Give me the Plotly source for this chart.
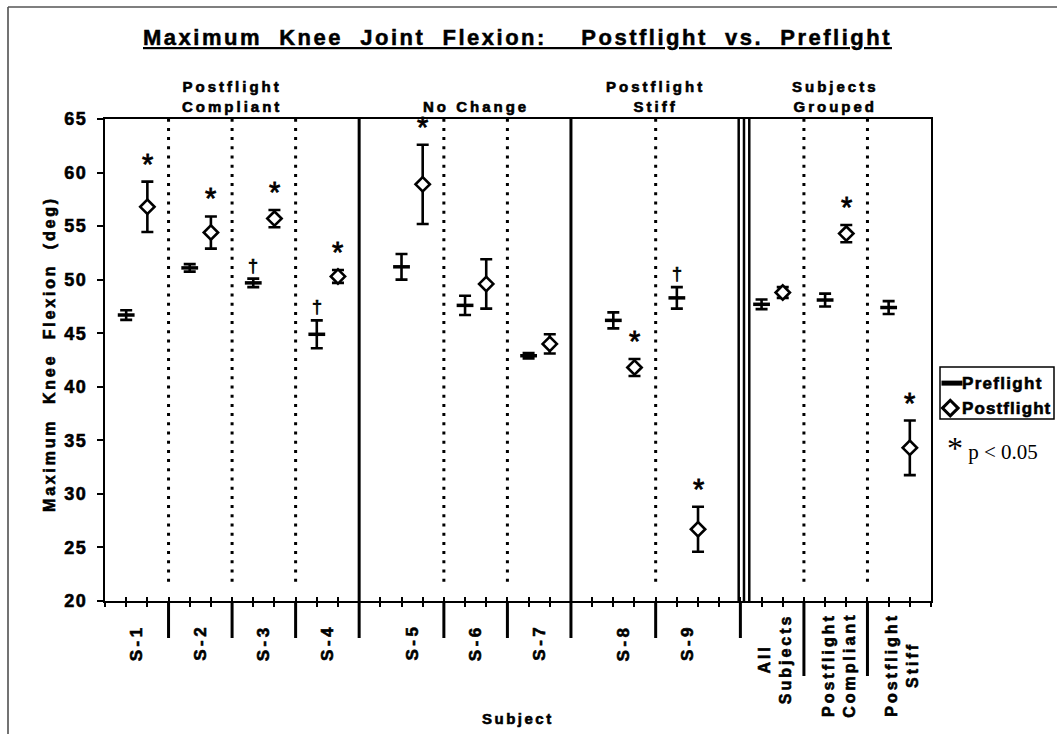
import plotly.graph_objects as go

# ---------------- data ----------------
subjects = ["S-1", "S-2", "S-3", "S-4", "S-5", "S-6", "S-7", "S-8", "S-9",
            "All<br>Subjects", "Postflight<br>Compliant", "Postflight<br>Stiff"]
group_names = ["Postflight<br>Compliant", "No Change", "Postflight<br>Stiff",
               "Subjects<br>Grouped"]
group_sizes = [4, 3, 2, 3]

pre_mean = [46.7, 51.1, 49.7, 44.9, 51.2, 47.6, 42.9, 46.2, 48.3, 47.7, 48.1, 47.4]
pre_err = [0.45, 0.35, 0.4, 1.3, 1.2, 0.9, 0.25, 0.75, 1.0, 0.45, 0.6, 0.6]
post_mean = [56.8, 54.4, 55.7, 50.3, 58.9, 49.6, 44.0, 41.8, 26.7, 48.8, 54.3, 34.3]
post_err = [2.35, 1.5, 0.8, 0.6, 3.7, 2.3, 0.9, 0.8, 2.1, 0.5, 0.8, 2.55]
post_sig = [1, 1, 1, 1, 1, 0, 0, 1, 1, 0, 1, 1]      # * p < 0.05
pre_dagger = [0, 0, 1, 1, 0, 0, 0, 0, 1, 0, 0, 0]    # †

y_ticks = [20, 25, 30, 35, 40, 45, 50, 55, 60, 65]

# slot layout: every subject uses three slots (pre, post, divider);
# some subjects get an extra empty slot before or after them
lead_gap = [0, 0, 0, 0, 1, 0, 0, 1, 0, 0, 0, 0]
trail_gap = [0, 0, 0, 0, 0, 0, 0, 0, 1, 0, 0, 0]

W, H = 1057, 734
def px(v):
    return v / W
def py(v):
    return 1 - v / H

PLOT_L, PLOT_R, PLOT_T, PLOT_B = 105, 931, 119, 601
LEG_L, LEG_R, LEG_T, LEG_B = 940, 1054, 367, 419
BOLD = "Liberation Sans"

def spaced(text, sp, stroke=0.6):
    style = f"letter-spacing:{sp}px"
    if stroke:
        style += f";stroke:black;stroke-width:{stroke}px"
    return f'<span style="{style}">{text}</span>'

pos_pre, pos_post, bounds = [], [], [0]
b = 0
for i in range(len(subjects)):
    pre = b + 1 + lead_gap[i]
    pos_pre.append(pre)
    pos_post.append(pre + 1)
    b = pre + 2 + trail_gap[i]
    bounds.append(b)
x_max = bounds[-1]

# group boundaries (indices into bounds)
group_ends = []
c = 0
for g in group_sizes:
    c += g
    group_ends.append(c)

fig = go.Figure()

# preflight: horizontal dash with error bars
fig.add_trace(go.Scatter(
    x=pos_pre, y=pre_mean, mode="markers", cliponaxis=False,
    marker=dict(symbol="line-ew", size=12, color="black",
                line=dict(width=3.5, color="black")),
    error_y=dict(type="data", array=pre_err, thickness=2.6, width=6, color="black"),
    hoverinfo="skip"))
# postflight: open diamond with error bars
fig.add_trace(go.Scatter(
    x=pos_post, y=post_mean, mode="markers", cliponaxis=False,
    marker=dict(symbol="diamond", size=11, color="white",
                line=dict(width=2.6, color="black")),
    error_y=dict(type="data", array=post_err, thickness=2.6, width=6, color="black"),
    hoverinfo="skip"))
# overlay axis carrying the inward half of the x ticks
fig.add_trace(go.Scatter(x=[None], y=[None], xaxis="x3", yaxis="y",
                         hoverinfo="skip", mode="markers"))

# legend symbols on a small helper axis spanning the legend box
fig.add_trace(go.Scatter(
    x=[0.105], y=[0.69], xaxis="x2", yaxis="y2", mode="markers",
    marker=dict(symbol="line-ew", size=15, line=dict(width=5, color="black")),
    hoverinfo="skip"))
fig.add_trace(go.Scatter(
    x=[0.09], y=[0.21], xaxis="x2", yaxis="y2", mode="markers",
    marker=dict(symbol="diamond", size=12, color="white",
                line=dict(width=3, color="black")),
    hoverinfo="skip"))

shapes = []
# vertical separators
for k in range(1, len(bounds) - 1):
    xb = bounds[k]
    in_last_group = k > group_ends[-2]
    if k in group_ends:
        if k == group_ends[2]:
            # triple line between single subjects and grouped results
            for off in (-0.08, 0.17, 0.42):
                shapes.append(dict(type="line", xref="x", yref="y", x0=xb + off, x1=xb + off,
                                   y0=20, y1=65, line=dict(color="black", width=2.5)))
        else:
            shapes.append(dict(type="line", xref="x", yref="y", x0=xb, x1=xb,
                               y0=20, y1=65, line=dict(color="black", width=3)))
    else:
        shapes.append(dict(type="line", xref="x", yref="y", x0=xb, x1=xb,
                           y0=21.8, y1=65,
                           line=dict(color="black", width=3, dash="3px,6.2px")))
    # part below the axis
    y_end = 676 if in_last_group else 638
    shapes.append(dict(type="line", xref="x", yref="paper", x0=xb, x1=xb,
                       y0=py(PLOT_B), y1=py(y_end), line=dict(color="black", width=3)))

# outer frame (left and top)
shapes.append(dict(type="line", xref="paper", yref="paper", x0=px(8), x1=px(8),
                   y0=py(7), y1=0, line=dict(color="#444", width=1.5)))
shapes.append(dict(type="line", xref="paper", yref="paper", x0=px(8), x1=1,
                   y0=py(7), y1=py(7), line=dict(color="#555", width=1.5)))
# legend box
shapes.append(dict(type="rect", xref="paper", yref="paper", x0=px(LEG_L), x1=px(LEG_R),
                   y0=py(LEG_T), y1=py(LEG_B), line=dict(color="black", width=1.5)))

ann = []
# title
title = "Maximum\u00a0\u00a0Knee\u00a0\u00a0Joint\u00a0\u00a0Flexion:\u00a0\u00a0\u00a0\u00a0Postflight\u00a0\u00a0vs.\u00a0\u00a0Preflight"
ann.append(dict(xref="paper", yref="paper", x=px(517), y=py(37), xanchor="center",
                yanchor="middle", showarrow=False,
                text="<u>" + spaced(title, 2.5, 0.5) + "</u>",
                font=dict(family=BOLD, size=22, weight="bold", color="black")))

# group headers
start = 0
for name, size in zip(group_names, group_sizes):
    members = list(range(start, start + size))
    xc = sum(pos_pre[i] + pos_post[i] for i in members) / (2 * size)
    ann.append(dict(xref="x", yref="paper", x=xc, y=py(117), xanchor="center",
                    yanchor="bottom", showarrow=False, align="center",
                    text=spaced(name, 3),
                    font=dict(family=BOLD, size=15, weight="bold", color="black")))
    start += size

# category labels below the axis
for i, lab in enumerate(subjects):
    xc = (pos_pre[i] + pos_post[i]) / 2
    two_line = "<br>" in lab
    ann.append(dict(xref="x", yref="paper", x=xc + (0.12 if two_line else 0),
                    y=py(611 if two_line else 622),
                    xanchor="center", yanchor="top", showarrow=False, align="center",
                    textangle=-90, text=spaced(lab, 3 if two_line else 3.5),
                    font=dict(family=BOLD, size=16 if two_line else 17,
                              weight="bold", color="black")))

# significance markers
for i in range(len(subjects)):
    if post_sig[i]:
        ann.append(dict(xref="x", yref="y", x=pos_post[i], y=post_mean[i] + post_err[i],
                        xanchor="center", yanchor="bottom", yshift=0, showarrow=False,
                        text=spaced("*", 0, 0.8),
                        font=dict(family=BOLD, size=29, color="black")))
    if pre_dagger[i]:
        ann.append(dict(xref="x", yref="y", x=pos_pre[i], y=pre_mean[i] + pre_err[i],
                        xanchor="center", yanchor="bottom", yshift=1, showarrow=False,
                        text=spaced("\u2020", 0, 0.7),
                        font=dict(family=BOLD, size=18, color="black")))

# axis titles
ann.append(dict(xref="paper", yref="paper", x=px(49), y=py(354), xanchor="center",
                yanchor="middle", showarrow=False, textangle=-90,
                text=spaced("Maximum\u00a0\u00a0Knee\u00a0\u00a0Flexion\u00a0\u00a0(deg)", 2.8),
                font=dict(family=BOLD, size=16, weight="bold", color="black")))
ann.append(dict(xref="paper", yref="paper", x=px(518), y=py(718), xanchor="center",
                yanchor="middle", showarrow=False, text=spaced("Subject", 2.5),
                font=dict(family=BOLD, size=15, weight="bold", color="black")))

# legend text
ann.append(dict(xref="paper", yref="paper", x=px(960), y=py(383), xanchor="left",
                yanchor="middle", showarrow=False, text=spaced("Preflight", 1.3),
                font=dict(family=BOLD, size=17, weight="bold", color="black")))
ann.append(dict(xref="paper", yref="paper", x=px(960), y=py(408), xanchor="left",
                yanchor="middle", showarrow=False, text=spaced("Postflight", 1.1),
                font=dict(family=BOLD, size=17, weight="bold", color="black")))
ann.append(dict(xref="paper", yref="paper", x=px(945), y=py(448), xanchor="left",
                yanchor="middle", showarrow=False,
                text='<span style="font-size:32px">*</span> p &lt; 0.05',
                font=dict(family="Liberation Serif", size=21, color="black")))

axis_font = dict(family=BOLD, size=18, weight="bold", color="black")
fig.update_layout(
    width=W, height=H, margin=dict(l=0, r=0, t=0, b=0),
    paper_bgcolor="white", plot_bgcolor="white", showlegend=False,
    xaxis=dict(domain=[px(PLOT_L), px(PLOT_R)], range=[0, x_max],
               tickmode="array", tickvals=list(range(0, x_max + 1)),
               ticks="outside", ticklen=4, tickwidth=1.5, tickcolor="black",
               showticklabels=False, showgrid=False, zeroline=False,
               showline=True, linewidth=2, linecolor="black", mirror=True,
               automargin=False),
    xaxis3=dict(domain=[px(PLOT_L), px(PLOT_R)], range=[0, x_max], overlaying="x",
                anchor="y", tickmode="array", tickvals=list(range(0, x_max + 1)),
                ticks="inside", ticklen=4, tickwidth=1.5, tickcolor="black",
                showticklabels=False, showgrid=False, zeroline=False, showline=False,
                automargin=False),
    yaxis=dict(domain=[py(PLOT_B), py(PLOT_T)], range=[20, 65],
               tickmode="array", tickvals=y_ticks,
               ticktext=[spaced(str(v), 1.5) for v in y_ticks],
               ticks="outside", ticklen=6, tickwidth=2, tickcolor="black",
               tickfont=axis_font, ticklabelstandoff=6,
               showgrid=False, zeroline=False,
               showline=True, linewidth=2, linecolor="black", mirror=True,
               automargin=False),
    xaxis2=dict(domain=[px(LEG_L), px(LEG_R)], range=[0, 1], visible=False, fixedrange=True),
    yaxis2=dict(domain=[py(LEG_B), py(LEG_T)], range=[0, 1], visible=False, fixedrange=True,
                anchor="x2"),
    shapes=shapes, annotations=ann,
)
fig.update_traces(selector=dict(xaxis="x2"), yaxis="y2")

fig.write_html("out.html")
